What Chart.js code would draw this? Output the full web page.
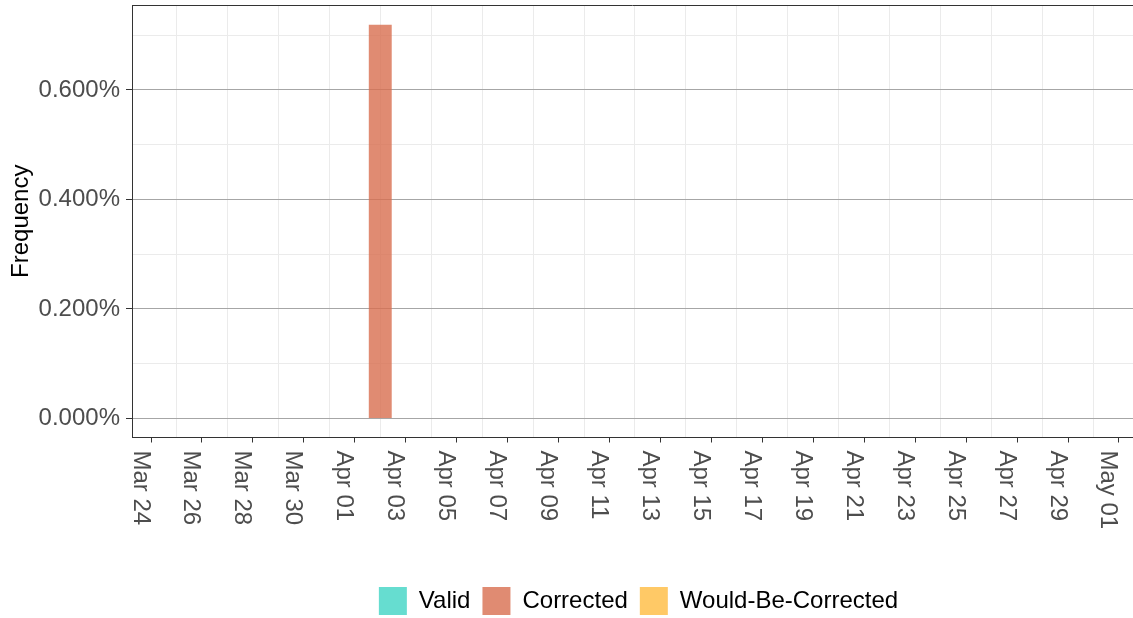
<!DOCTYPE html>
<html>
<head>
<meta charset="utf-8">
<script src="https://cdn.jsdelivr.net/npm/chart.js@4.4.1/dist/chart.umd.min.js"></script>
<style>
  html, body { margin: 0; padding: 0; background: #fff; }
  #wrap { position: relative; width: 1133px; height: 618px; }
</style>
</head>
<body>
<div id="wrap"><canvas id="freq"></canvas></div>
<script>
// one entry per day, Mar 24 .. May 01
const days = [
  'Mar 24', 'Mar 25', 'Mar 26', 'Mar 27', 'Mar 28', 'Mar 29', 'Mar 30', 'Mar 31',
  'Apr 01', 'Apr 02', 'Apr 03', 'Apr 04', 'Apr 05', 'Apr 06', 'Apr 07', 'Apr 08',
  'Apr 09', 'Apr 10', 'Apr 11', 'Apr 12', 'Apr 13', 'Apr 14', 'Apr 15', 'Apr 16',
  'Apr 17', 'Apr 18', 'Apr 19', 'Apr 20', 'Apr 21', 'Apr 22', 'Apr 23', 'Apr 24',
  'Apr 25', 'Apr 26', 'Apr 27', 'Apr 28', 'Apr 29', 'Apr 30', 'May 01'
];
const xTickLabels = [
  'Mar 24', 'Mar 26', 'Mar 28', 'Mar 30', 'Apr 01', 'Apr 03', 'Apr 05', 'Apr 07',
  'Apr 09', 'Apr 11', 'Apr 13', 'Apr 15', 'Apr 17', 'Apr 19', 'Apr 21', 'Apr 23',
  'Apr 25', 'Apr 27', 'Apr 29', 'May 01'
];
const yTickValues = [0, 0.1, 0.2, 0.3, 0.4, 0.5, 0.6, 0.7];

// frequencies in percent
const validFreq = [
  0, 0, 0, 0, 0, 0, 0, 0, 0, 0, 0, 0, 0, 0, 0, 0, 0, 0, 0, 0,
  0, 0, 0, 0, 0, 0, 0, 0, 0, 0, 0, 0, 0, 0, 0, 0, 0, 0, 0
];
const correctedFreq = [
  0, 0, 0, 0, 0, 0, 0, 0, 0, 0.719, 0, 0, 0, 0, 0, 0, 0, 0, 0, 0,
  0, 0, 0, 0, 0, 0, 0, 0, 0, 0, 0, 0, 0, 0, 0, 0, 0, 0, 0
];
const wouldBeFreq = [
  0, 0, 0, 0, 0, 0, 0, 0, 0, 0, 0, 0, 0, 0, 0, 0, 0, 0, 0, 0,
  0, 0, 0, 0, 0, 0, 0, 0, 0, 0, 0, 0, 0, 0, 0, 0, 0, 0, 0
];

const FONT = '"Liberation Sans", Arial, sans-serif';
const tickGray = '#4D4D4D';
const clear = 'rgba(0,0,0,0)';

function points(values) {
  return values.map((v, i) => ({ x: i, y: v }));
}
function isMajor(v) {
  return Math.round(v * 10) % 2 === 0;
}

// ggplot style: labels turned clockwise, panel top border
const dateLabels = {
  id: 'dateLabels',
  afterLayout(chart) {
    // legend sits centred on the (wider) panel
    chart.legend.left += 6;
    chart.legend.right += 6;
  },
  afterDraw(chart) {
    const { ctx, chartArea, scales: { x } } = chart;
    ctx.save();
    ctx.strokeStyle = '#333333';
    ctx.lineWidth = 1;
    ctx.beginPath();
    ctx.moveTo(chartArea.left, chartArea.top + 0.5);
    ctx.lineTo(chartArea.right, chartArea.top + 0.5);
    ctx.stroke();

    ctx.fillStyle = tickGray;
    ctx.font = '24px ' + FONT;
    ctx.textAlign = 'left';
    ctx.textBaseline = 'alphabetic';
    xTickLabels.forEach(lbl => {
      const px = x.getPixelForValue(days.indexOf(lbl));
      ctx.save();
      ctx.translate(px, chartArea.bottom + 13);
      ctx.rotate(Math.PI / 2);
      ctx.fillText(lbl, 0, 17.5);
      ctx.restore();
    });
    ctx.restore();
  }
};

const ctx = document.getElementById('freq').getContext('2d');
const freqChart = new Chart(ctx, {
  type: 'bar',
  data: {
    datasets: [
      { label: 'Valid', data: points(validFreq), backgroundColor: 'rgba(64, 212, 196, 0.8)', borderWidth: 0 },
      { label: 'Corrected', data: points(correctedFreq), backgroundColor: 'rgba(216, 110, 79, 0.8)', borderWidth: 0 },
      { label: 'Would-Be-Corrected', data: points(wouldBeFreq), backgroundColor: 'rgba(255, 187, 64, 0.8)', borderWidth: 0 }
    ]
  },
  options: {
    responsive: true,
    maintainAspectRatio: false,
    animation: false,
    layout: { padding: { top: 5, right: 0, bottom: -7, left: 0 } },
    datasets: { bar: { categoryPercentage: 0.9, barPercentage: 1 } },
    scales: {
      x: {
        type: 'linear',
        stacked: true,
        offset: false,
        min: -0.746,
        max: 38.55,
        afterBuildTicks: s => { s.ticks = days.map((d, i) => ({ value: i })); },
        afterFit: s => {
          s.height = 137.5;
          s.paddingLeft = 0;
          s.paddingRight = 0;
        },
        ticks: { display: false },
        grid: {
          offset: false,
          color: c => (c.tick && c.tick.value % 2 === 1) ? '#EBEBEB' : clear,
          tickColor: c => (c.tick && c.tick.value % 2 === 0) ? '#333333' : clear,
          tickLength: 5,
          lineWidth: 1
        },
        border: { color: '#333333', width: 1 }
      },
      y: {
        stacked: true,
        min: -0.0347,
        max: 0.7552,
        afterBuildTicks: s => { s.ticks = yTickValues.map(v => ({ value: v })); },
        afterFit: s => {
          s.width = 132;
          s.paddingTop = 0;
          s.paddingBottom = 0;
        },
        ticks: {
          callback: v => isMajor(v) ? v.toFixed(3) + '%' : '',
          color: tickGray,
          font: { family: FONT, size: 24 },
          padding: 6
        },
        grid: {
          color: c => (c.tick && isMajor(c.tick.value)) ? '#A6A6A6' : '#EBEBEB',
          tickColor: c => (c.tick && isMajor(c.tick.value)) ? '#333333' : clear,
          tickLength: 6
        },
        border: { color: '#333333', width: 1 },
        title: {
          display: true,
          text: 'Frequency',
          color: '#000000',
          font: { family: FONT, size: 24 },
          padding: { top: 6.6, bottom: 0 }
        }
      }
    },
    plugins: {
      legend: {
        position: 'bottom',
        fullSize: false,
        labels: {
          boxWidth: 28,
          boxHeight: 28,
          padding: 12,
          color: '#000000',
          font: { family: FONT, size: 24 }
        }
      },
      tooltip: { enabled: false }
    }
  },
  plugins: [dateLabels]
});
</script>
</body>
</html>
